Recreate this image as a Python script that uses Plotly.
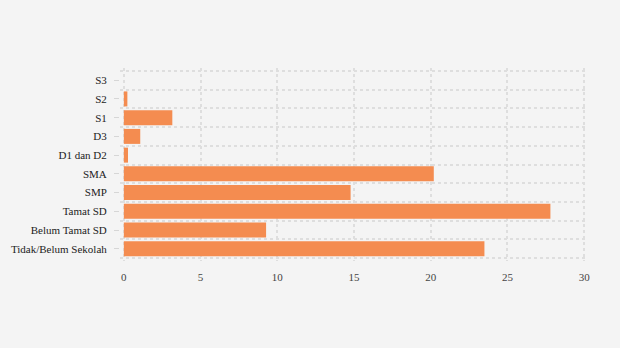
import plotly.graph_objects as go

categories = ["S3", "S2", "S1", "D3", "D1 dan D2", "SMA", "SMP", "Tamat SD",
              "Belum Tamat SD", "Tidak/Belum Sekolah"]
values = [0.0, 0.23, 3.16, 1.07, 0.27, 20.2, 14.78, 27.8, 9.27, 23.5]
x_ticks = [0, 5, 10, 15, 20, 25, 30]

BG = "#f4f4f4"
GRID = "#dedede"
FONT = "Liberation Serif, Times New Roman, serif"

n = len(categories)
boundaries = [i - 0.5 for i in range(n + 1)]

fig = go.Figure()
fig.add_trace(go.Bar(
    x=values, y=categories, orientation="h",
    marker=dict(color="#f48c50", line=dict(width=0)),
    hoverinfo="x+y",
))
fig.add_trace(go.Scatter(
    x=[None], y=[None], yaxis="y2",
    mode="markers", marker=dict(opacity=0), hoverinfo="skip", showlegend=False,
))

fig.update_layout(
    width=620, height=348,
    paper_bgcolor=BG, plot_bgcolor=BG,
    margin=dict(l=120, r=32, t=68, b=87),
    bargap=0.2,
    showlegend=False,
    font=dict(family=FONT, size=11, color="#333333"),
    xaxis=dict(
        range=[-0.25, 30.25], tickvals=x_ticks, showgrid=True, gridcolor=GRID,
        griddash="3px,3px", gridwidth=2, zeroline=False, showline=False,
        ticks="", ticklabelstandoff=8, tickfont=dict(color="#444444", size=11),
    ),
    yaxis=dict(
        type="category", categoryorder="array", categoryarray=categories,
        range=[n - 0.5 + 0.15, -0.5 - 0.15], showgrid=False,
        ticks="outside", ticklen=5, tickcolor="#d6d6d6", zeroline=False,
        showline=False, ticklabelstandoff=5, tickfont=dict(color="#222222", size=11),
    ),
    yaxis2=dict(
        type="linear", range=[n - 0.5 + 0.15, -0.5 - 0.15], overlaying="y",
        side="left", tickvals=boundaries, showticklabels=False, ticks="",
        showgrid=True, gridcolor=GRID, griddash="3px,3px", gridwidth=2,
        zeroline=False, showline=False,
    ),
)

fig.write_html("out.html")
